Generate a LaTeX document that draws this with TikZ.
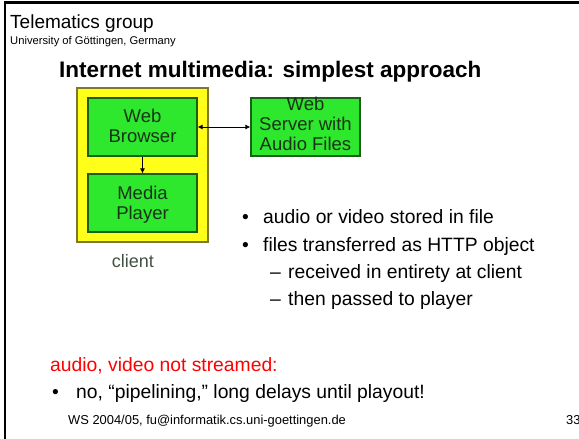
\documentclass[tikz,border=0pt]{standalone}
\usepackage{fontspec}
\setmainfont{Liberation Sans}
\usetikzlibrary{arrows.meta}
\definecolor{boxgreen}{RGB}{45,232,45}
\definecolor{boxgreenedge}{RGB}{25,95,25}
\definecolor{clientyellow}{RGB}{255,255,25}
\definecolor{clientedge}{RGB}{125,120,45}
\definecolor{boxtext}{RGB}{25,50,25}
\definecolor{slidered}{RGB}{255,0,0}
\tikzset{
  txt/.style={anchor=base west, inner sep=0pt},
  bodytxt/.style={txt, font=\fontsize{19.3}{23}\selectfont},
  greenbox/.style={draw=boxgreenedge, fill=boxgreen, line width=1.2pt, rectangle, inner sep=0pt},
  boxlabel/.style={align=center, text=boxtext, font=\fontsize{18.5}{20}\selectfont, inner sep=0pt, anchor=base},
  arr/.style={line width=0.8pt, -{Latex[length=5pt,width=5pt]}},
  darr/.style={line width=0.8pt, {Latex[length=5pt,width=5pt]}-{Latex[length=5pt,width=5pt]}}
}
\begin{document}
\begin{tikzpicture}[x=1pt,y=-1pt]
\useasboundingbox (0,0) rectangle (579,439);
\draw[line width=2.5pt] (5,439) -- (5,2.5) -- (579,2.5);
% header
\node[txt, font=\fontsize{19}{22}\selectfont] (tg) at (10,28) {Telematics group};
\node[txt, font=\fontsize{11.2}{13}\selectfont] (uni) at (10,44) {University of Göttingen, Germany};
\node[txt, font=\bfseries\fontsize{22.5}{26}\selectfont] (title) at (59,77) {Internet multimedia: simplest approach};
% diagram
\node[draw=clientedge, fill=clientyellow, line width=1.2pt, minimum width=131pt, minimum height=154pt, inner sep=0pt] (client) at (142.5,165) {};
\node[greenbox, minimum width=109pt, minimum height=58pt] (browser) at (142.5,127) {};
\node[boxlabel] (browserlbl) at (142.5,142) {Web\\Browser};
\node[greenbox, minimum width=109pt, minimum height=58pt] (media) at (142.5,203) {};
\node[boxlabel] (medialbl) at (142.5,219) {Media\\Player};
\node[greenbox, minimum width=109pt, minimum height=58pt] (server) at (305.5,127) {};
\node[boxlabel] (serverlbl) at (305.5,150) {Web\\Server with\\Audio Files};
\draw[arr] (browser.south) -- (media.north);
\draw[darr] (browser.east) -- (server.west);
\node[font=\fontsize{18}{20}\selectfont, text=boxtext!60!gray, inner sep=0pt, anchor=base] (clientlbl) at (133,267) {client};
% bullets
\node[bodytxt] (b1) at (242,223) {•};
\node[bodytxt] (t1) at (263,223) {audio or video stored in file};
\node[bodytxt] (b2) at (242,251) {•};
\node[bodytxt] (t2) at (263,251) {files transferred as HTTP object};
\node[bodytxt] (d1) at (270,278) {–};
\node[bodytxt] (t3) at (288,278) {received in entirety at client};
\node[bodytxt] (d2) at (270,305) {–};
\node[bodytxt] (t4) at (288,305) {then passed to player};
% bottom
\node[bodytxt, text=slidered] (red) at (50,371) {audio, video not streamed:};
\node[bodytxt] (b3) at (52,398) {•};
\node[bodytxt] (t5) at (76,398) {no, “pipelining,” long delays until playout!};
% footer
\node[txt, font=\fontsize{12.9}{15}\selectfont] (foot) at (68,424) {WS 2004/05, fu@informatik.cs.uni-goettingen.de};
\node[txt, font=\fontsize{12.9}{15}\selectfont] (page) at (566,424) {33};
\end{tikzpicture}
\end{document}
